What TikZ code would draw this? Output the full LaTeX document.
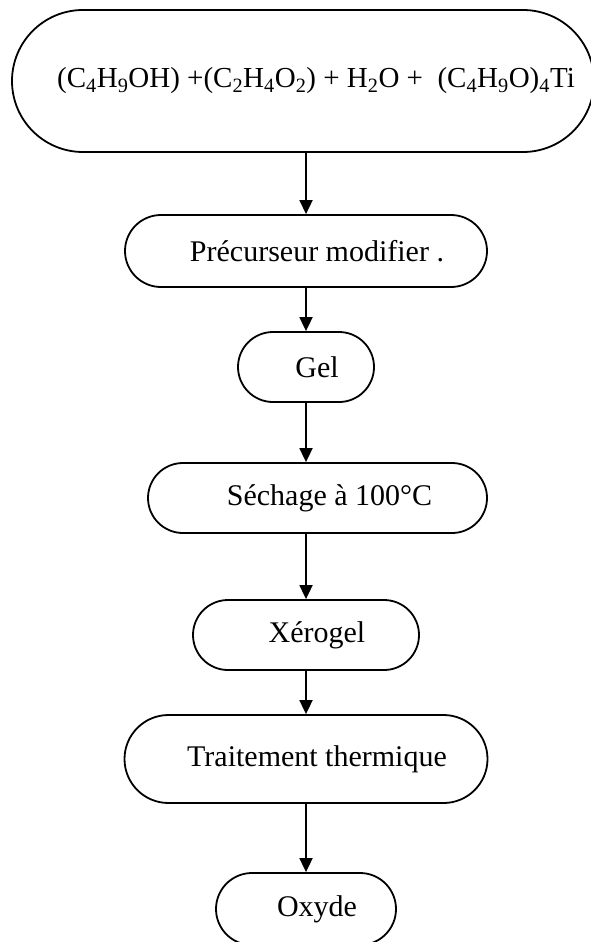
\documentclass[tikz,border=0pt]{standalone}
\usepackage{fontspec}
\setmainfont{Liberation Serif}
\usetikzlibrary{positioning, shapes.misc, arrows.meta}

\begin{document}
\begin{tikzpicture}[x=1pt,y=1pt,line width=1.8pt,node distance=120pt,on grid,
   pad/.style={execute at begin node=\hspace*{#1}}, pad/.default=22pt,
   stage/.style={rounded rectangle,draw,minimum height=70pt,inner sep=0pt,
      font=\fontsize{30}{36}\selectfont,pad},
   flow/.style={-{Triangle[length=14pt,width=13pt]}}]
   \useasboundingbox (0,0) rectangle (590,-942);
   \node[draw,rounded corners=71pt,minimum width=582pt,minimum height=142pt,inner sep=0pt,
      font=\fontsize{29}{35}\selectfont,pad=26pt] (mix) at (303,-81)
      {(C\textsubscript{4}H\textsubscript{9}OH) +(C\textsubscript{2}H\textsubscript{4}O\textsubscript{2}) + H\textsubscript{2}O +\ \ (C\textsubscript{4}H\textsubscript{9}O)\textsubscript{4}Ti};
   \node[stage,minimum width=362pt,minimum height=72pt] (prec) [below=170pt of mix, xshift=3pt] {Précurseur modifier .};
   \node[stage,minimum width=136pt] (gel) [below=116pt of prec] {Gel};
   \node[stage,minimum width=339pt,pad=2pt] (sech) [below=131pt of gel, xshift=11.5pt] {Séchage à 100°C};
   \node[stage,minimum width=226pt] (xero) [below=137pt of sech, xshift=-11.5pt] {Xérogel};
   \node[stage,minimum width=363pt,minimum height=88pt] (trait) [below=124pt of xero] {Traitement thermique};
   \node[stage,minimum width=180pt,minimum height=72pt] (oxy) [below=150pt of trait] {Oxyde};
   \path[flow]
    (mix.south -| prec) edge (prec)
    (prec) edge (gel)
    (gel) edge (gel |- sech.north)
    (sech.south -| xero) edge (xero)
    (xero) edge (trait)
    (trait) edge (oxy);
\end{tikzpicture}
\end{document}
